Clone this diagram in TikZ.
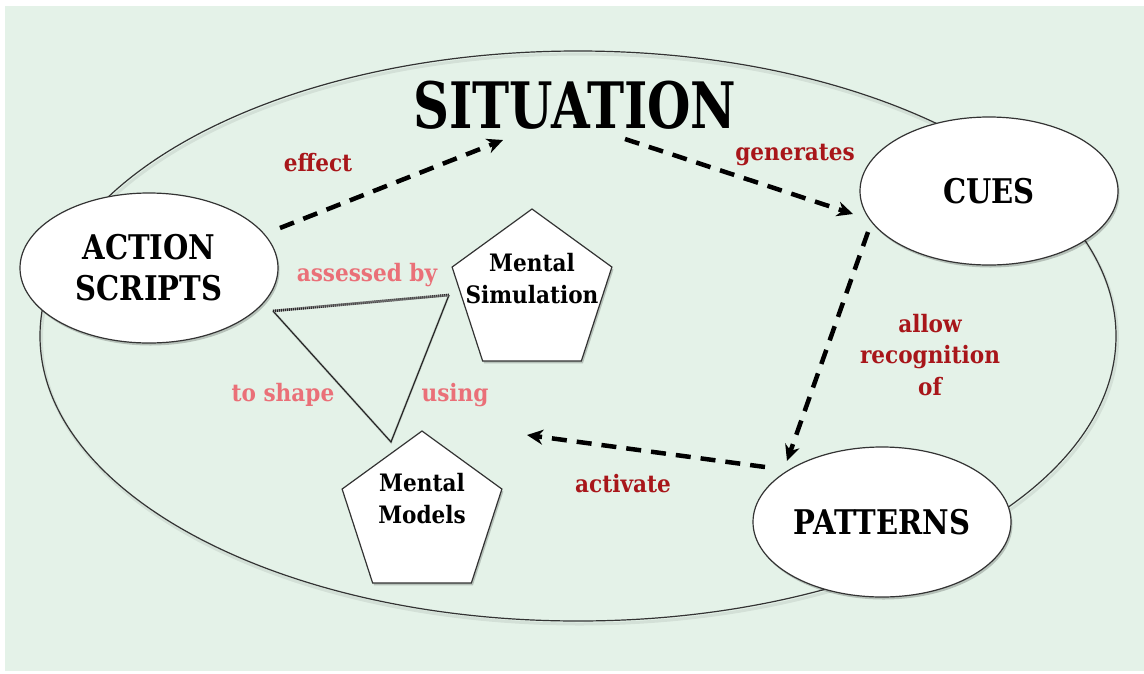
\documentclass[tikz,border=0pt]{standalone}
\usepackage{fontspec}
\newfontfamily\dvs{DejaVu Serif Condensed}
\newfontfamily\dvsn{DejaVu Serif Condensed}[FakeStretch=0.865]
\newfontfamily\dvsc{DejaVu Serif Condensed}[FakeStretch=0.95]
\usetikzlibrary{arrows.meta,shapes.geometric,shadows}
\definecolor{bg}{RGB}{228,242,232}
\definecolor{darkred}{RGB}{168,22,26}
\definecolor{pinklbl}{RGB}{234,112,120}
\begin{document}
\begin{tikzpicture}[x=1pt,y=-1pt,
  shad/.style={drop shadow={shadow xshift=1.5pt,shadow yshift=-2.5pt,opacity=0.2,fill=black}},
  bubble/.style={ellipse,draw=black!80,line width=1.2pt,fill=white,inner sep=0pt,
    minimum width=258pt,minimum height=150pt,shad,
    font=\dvsc\bfseries\fontsize{34}{41}\selectfont,align=center},
  pent/.style={regular polygon,regular polygon sides=5,draw=black!80,line width=1.2pt,
    fill=white,minimum size=168pt,inner sep=0pt,shad},
  ptext/.style={font=\dvs\bfseries\fontsize{24}{32}\selectfont,align=center},
  rlbl/.style={text=darkred,font=\dvs\bfseries\fontsize{24}{31.5}\selectfont,align=center},
  plbl/.style={text=pinklbl,font=\dvs\bfseries\fontsize{24}{28}\selectfont},
  flow/.style={line width=4.5pt,dash pattern=on 15pt off 10pt,-{Stealth[length=16pt,width=15pt]}},
  tri/.style={line width=1.2pt,black!85}]
\useasboundingbox (0,0) rectangle (1144,673);
\fill[bg] (5,6) rectangle (1144,671);
% big situation ellipse
\draw[black,opacity=0.07,line width=3pt] (579.5,339) ellipse [x radius=538pt,y radius=285pt];
\draw[black!80,line width=1.2pt] (578,336) ellipse [x radius=538pt,y radius=285pt];
\node[font=\dvsn\bfseries\fontsize{64}{70}\selectfont] (sit) at (575,105) {SITUATION};
% bubbles
\node[bubble] (act) at (149,268) {ACTION\\SCRIPTS};
\node[bubble,minimum height=148pt] (cues) at (989,191) {CUES};
\node[bubble] (pat) at (882,522) {PATTERNS};
% pentagons
\node[pent] (sim) at (532,293) {};
\node[ptext] (simt) at (532,279) {Mental\\Simulation};
\node[pent] (mod) at (422,515) {};
\node[ptext] (modt) at (422,499) {Mental\\Models};
% triangle
\coordinate (t1) at (273,311);
\coordinate (t2) at (449,295);
\coordinate (t3) at (391,442);
\draw[tri,black,opacity=0.12,line width=2.5pt,shift={(1.5,2.5)}] (t1) -- (t3) -- (t2);
\draw[tri] (t1) -- (t3) -- (t2);
\draw[line width=2.6pt,black!40] (t1) -- (t2);
\draw[line width=2.6pt,black!85,dash pattern=on 0.9pt off 1.1pt] (t1) -- (t2);
% arrow end points
\coordinate (e1s) at (280,228);
\coordinate (e1e) at (503,140);
\coordinate (e2s) at (625,139);
\coordinate (e2e) at (853,214);
\coordinate (e3s) at (868,232);
\coordinate (e3e) at (787,461);
\coordinate (e4s) at (765,467);
\coordinate (e4e) at (527,435);
\draw[flow] (e1s) -- (e1e);
\draw[flow] (e2s) -- (e2e);
\draw[flow] (e3s) -- (e3e);
\draw[flow] (e4s) -- (e4e);
% labels
\node[rlbl] (leffect) at (318,163) {effect};
\node[rlbl] (lgen) at (795,155) {generates};
\node[rlbl] (lallow) at (930,355) {allow\\recognition\\of};
\node[rlbl] (lact) at (623,484) {activate};
\node[plbl] (lass) at (367,275) {assessed by};
\node[plbl] (lshape) at (283,395) {to shape};
\node[plbl] (lusing) at (455,395) {using};
\end{tikzpicture}
\end{document}
